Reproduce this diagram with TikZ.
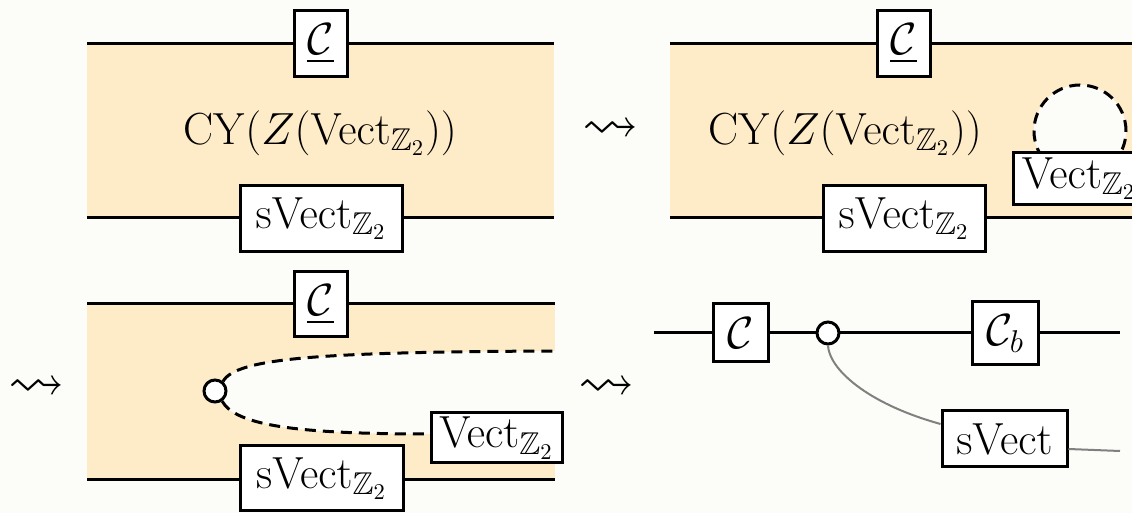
\RequirePackage{fix-cm}
\documentclass[tikz,border=0pt]{standalone}
\usepackage{amssymb}
\usepackage{graphicx}
\usetikzlibrary{calc,backgrounds}
\definecolor{bandc}{RGB}{254,235,200}
\definecolor{bgc}{RGB}{252,252,248}
\definecolor{wirec}{RGB}{128,128,128}
\tikzset{
  wire/.style={line width=1.5pt},
  graywire/.style={line width=1pt, draw=wirec},
  dashwire/.style={line width=1.5pt, dash pattern=on 5.5pt off 3.5pt},
  labelbox/.style n args={2}{draw, line width=1.5pt, fill=white, inner sep=0pt,
    minimum width=#1, minimum height=#2},
  dotnode/.style={circle, draw, line width=1.5pt, fill=white, inner sep=0pt, minimum size=11pt},
  squig/.style={inner sep=0pt}
}
\begin{document}
\begin{tikzpicture}[x=0.5pt,y=-0.5pt,font=\fontsize{22.5}{27}\selectfont]
\clip (0,0) rectangle (1132,513);
\begin{scope}[on background layer]
  \fill[bgc] (0,0) rectangle (1132,513);
  \fill[bandc] (87,44) rectangle (554,218);
  \fill[bandc] (670,44) rectangle (1140,218);
  \fill[bandc] (87,304) rectangle (555,480);
  \fill[bgc] (215,391) -- (222,383) .. controls (236,358) and (320,352) .. (555,351)
     -- (555,436) -- (431,434) .. controls (300,434) and (236,426) .. (221,401) -- cycle;
\end{scope}

% ---------- panel 1 ----------
\coordinate (a1) at (87,44);  \coordinate (a2) at (554,44);
\coordinate (b1) at (87,218); \coordinate (b2) at (554,218);
\draw[wire] (a1) -- (a2);
\draw[wire] (b1) -- (b2);
\node[labelbox={26.5pt}{33pt}] (c1) at (320.5,43.5) {$\underline{\mathcal{C}}$};
\node (cy1) at (320,133) {$\mathrm{CY}(Z(\mathrm{Vect}_{\mathbb{Z}_2}))$};
\node[labelbox={81pt}{33pt}] (s1) at (321,218.5) {$\mathrm{sVect}_{\mathbb{Z}_2}$};

% ---------- panel 2 ----------
\node[squig] (sq2) at (611,131) {\scalebox{1.25}{$\leadsto$}};
\coordinate (a3) at (670,44);  \coordinate (a4) at (1140,44);
\coordinate (b3) at (670,218); \coordinate (b4) at (1140,218);
\draw[wire] (a3) -- (a4);
\draw[wire] (b3) -- (b4);
\node[labelbox={26.5pt}{33pt}] (c2) at (903.5,43.5) {$\underline{\mathcal{C}}$};
\node (cy2) at (845,133) {$\mathrm{CY}(Z(\mathrm{Vect}_{\mathbb{Z}_2}))$};
\node[circle, draw, dashwire, fill=bgc, inner sep=0pt, minimum size=46pt] (loop2) at (1080,131) {};
\node[labelbox={65.5pt}{26pt}] (v2) at (1079,178.5) {$\mathrm{Vect}_{\mathbb{Z}_2}$};
\node[labelbox={81pt}{33pt}] (s2) at (904,218.5) {$\mathrm{sVect}_{\mathbb{Z}_2}$};

% ---------- panel 3 ----------
\node[squig] (sq3) at (37,389) {\scalebox{1.25}{$\leadsto$}};
\coordinate (a5) at (87,304);  \coordinate (a6) at (555,304);
\coordinate (b5) at (87,480);  \coordinate (b6) at (555,480);
\coordinate (e3) at (555,351);
\coordinate (q3) at (431,434);
\draw[wire] (a5) -- (a6);
\draw[wire] (b5) -- (b6);
\node[labelbox={26.5pt}{32.5pt}] (c3) at (320.5,304.5) {$\underline{\mathcal{C}}$};
\node[labelbox={81.5pt}{32.5pt}] (s3) at (321.5,478.5) {$\mathrm{sVect}_{\mathbb{Z}_2}$};
\node[dotnode] (d3) at (215,391) {};
\node[labelbox={65.5pt}{25pt}] (v3) at (496.5,438) {$\mathrm{Vect}_{\mathbb{Z}_2}$};
\draw[dashwire] (d3.50) .. controls (236,358) and (320,352) .. (e3);
\draw[dashwire] (d3.-55) .. controls (236,426) and (300,434) .. (q3);

% ---------- panel 4 ----------
\node[squig] (sq4) at (607,389) {\scalebox{1.25}{$\leadsto$}};
\coordinate (l1) at (654,333); \coordinate (l2) at (1120,333);
\draw[wire] (l1) -- (l2);
\node[labelbox={27.5pt}{29pt}] (c4) at (740.5,333) {$\mathcal{C}$};
\node[dotnode] (d4) at (828,333) {};
\node[labelbox={33pt}{31.5pt}] (cb4) at (1005,333.5) {$\mathcal{C}_b$};
\node[labelbox={62.5pt}{28pt}] (sv4) at (1004.5,439) {$\mathrm{sVect}$};
\coordinate (r4) at (1120,451);
\draw[graywire] (d4.south) .. controls (829,368) and (865,403) .. ($(sv4.west)+(0,-15)$);
\draw[graywire] ($(sv4.east)+(0,10)$) -- (r4);
\end{tikzpicture}
\end{document}
